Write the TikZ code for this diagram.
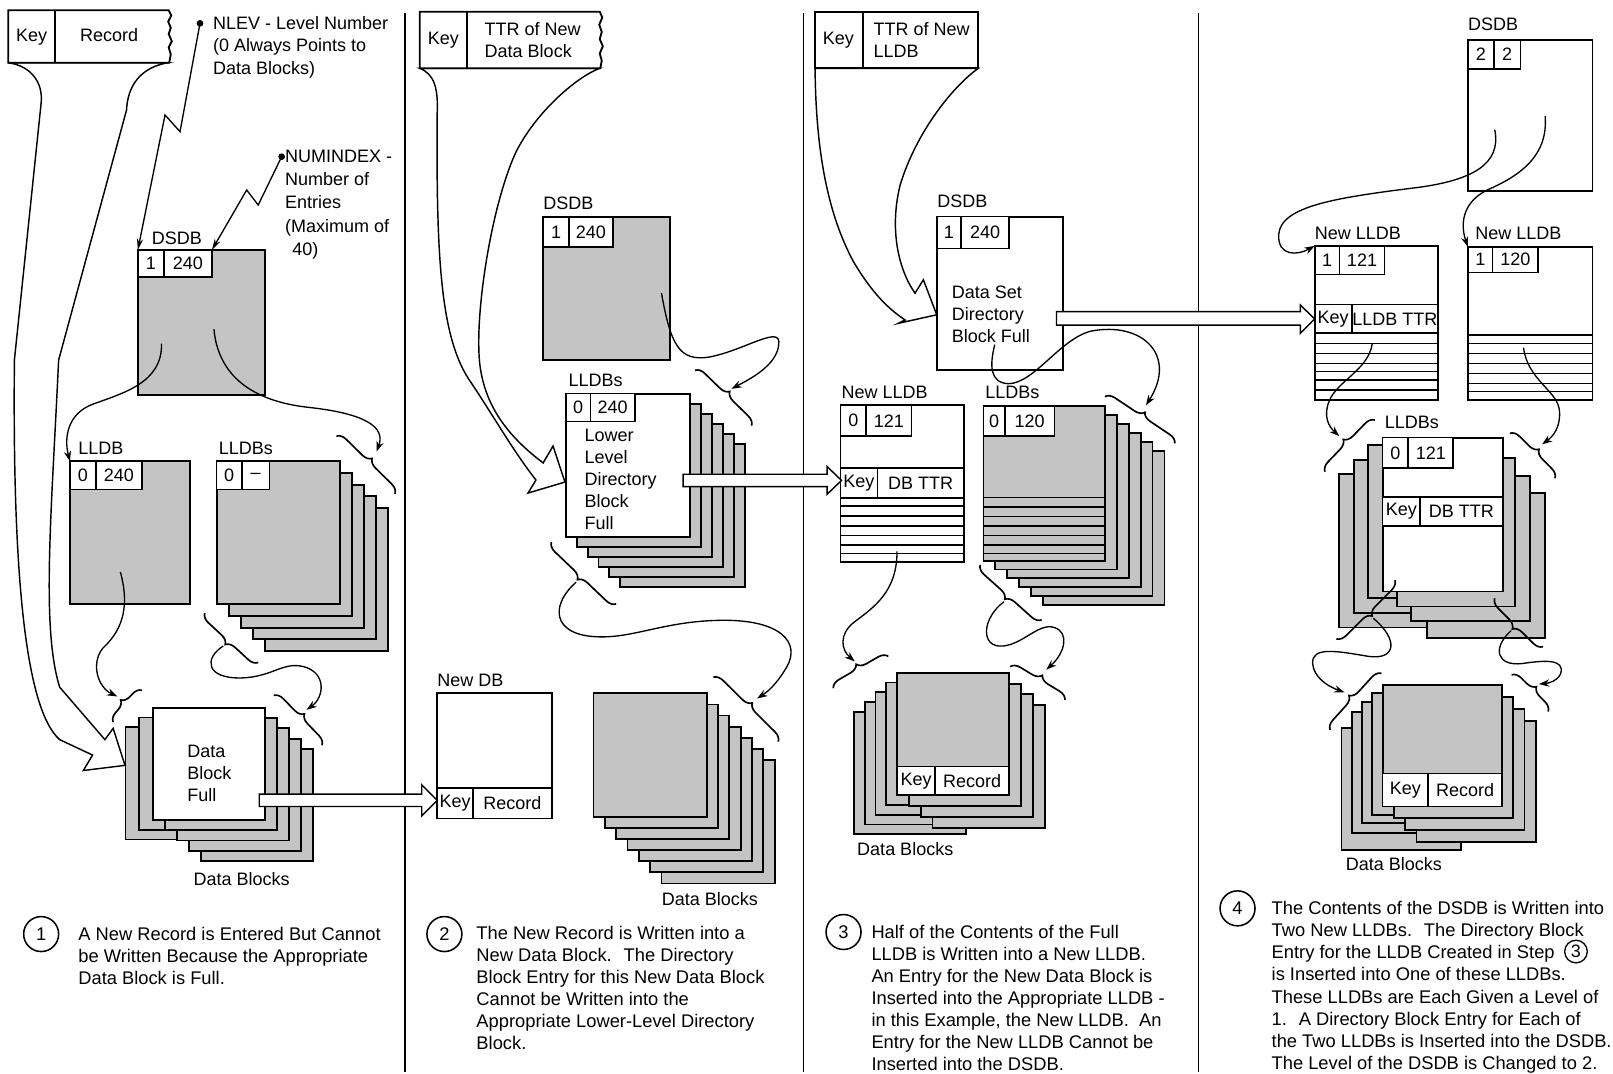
\documentclass[tikz,border=0pt]{standalone}
\usepackage{fontspec}
\setmainfont{Liberation Sans}
\usetikzlibrary{arrows.meta,decorations.pathreplacing}
\definecolor{stipple}{RGB}{196,196,196}
\newcommand\txtsize{\fontsize{17.5}{21.4}\selectfont}
\newcommand\steptxt{\fontsize{17.8}{21.5}\selectfont}

\tikzset{
  leaf/.style={draw, line width=1.8pt, fill=stipple, anchor=north west, inner sep=0pt, outer sep=0pt},
  blank/.style={leaf, fill=white},
  cell/.style={draw, line width=1.6pt, fill=white, anchor=north west, inner sep=0pt, outer sep=0pt, font=\txtsize},
  lbl/.style={anchor=west, inner sep=0pt, font=\txtsize, text height=12.5pt, text depth=3.5pt},
  ctr/.style={inner sep=0pt, font=\txtsize, text height=12.5pt, text depth=3.5pt},
  para/.style={anchor=north west, inner sep=0pt, align=left, font=\txtsize},
  steppara/.style={anchor=north west, inner sep=0pt, align=left, font=\steptxt},
  link/.style={line width=1.3pt, -{Stealth[length=10pt,width=7pt]}},
  lead/.style={line width=1.3pt, -{Stealth[length=11pt,width=6pt]}},
  curl/.style={decorate, decoration={brace, amplitude=9pt}, line width=1.6pt},
  hollow/.style={draw, line width=1.4pt, fill=white, line join=miter},
  rule/.style={line width=1.4pt},
  frame/.style={line width=1.8pt},
  stripe/.style={line width=1.3pt},
  stepmark/.style={circle, draw, line width=1.5pt, minimum size=34pt, inner sep=0pt, font=\steptxt},
  dot/.style={circle, fill, inner sep=0pt, minimum size=6.5pt},
}

% one sheet of a block: [style]{name}{x}{y}{width}{height}
\newcommand\leafbox[6][leaf]{\node[#1, minimum width=#5pt, minimum height=#6pt] (#2) at (#3,#4) {};}
% two adjoining cells: {name}{x}{y}{w1}{w2}{h}{text1}{text2}
\newcommand\hdr[8]{%
  \node[cell, minimum width=#4pt, minimum height=#6pt] (#1a) at (#2,#3) {#7};
  \node[cell, minimum width=#5pt, minimum height=#6pt] (#1b) at (#1a.north east) {#8};}

\begin{document}
\begin{tikzpicture}[x=1pt,y=-1pt]
\useasboundingbox (0,0) rectangle (1568,1044);
\fill[white] (0,0) rectangle (1568,1044);

% column separators
\draw[rule] (393.5,13) -- (393.5,1042);
\draw[rule] (781,13) -- (781,1042);
\draw[rule] (1165,13) -- (1165,1042);

% =================== STEP 1 ===================
% funnel arrow from the record into the data blocks
\path[hollow] (8,61) .. controls (30,64) and (42,80) .. (40,100) -- (14,350)
  .. controls (12,560) and (25,690) .. (58,719) -- (90,734) -- (81,749) -- (121.5,744)
  -- (110,708) -- (102,719) -- (58,668) .. controls (40,610) and (50,500) .. (57,350)
  -- (123,107) .. controls (124,85) and (135,66) .. (163,61) -- cycle;
% record with torn right edge
\draw[frame, fill=white] (8,10) -- (164,10) -- (166.5,15) -- (163.5,21) -- (166,27) -- (164,33)
  -- (167,40) -- (164,46) -- (166,53) -- (164.5,61) -- (8,61) -- cycle;
\draw[frame] (53.5,10) -- (53.5,61);
\node[ctr] (k1) at (30.7,36) {Key};
\node[ctr] (r1) at (106,36) {Record};

% DSDB
\leafbox{dsdb1}{134}{243}{123.6}{141}
\hdr{h1}{134}{243}{25.5}{46.5}{26}{1}{240}
\node[lbl] (dsdb1l) at (147.5,233) {DSDB};

% annotations
\node[dot] (nlevdot) at (194.4,22.7) {};
\node[para, font=\fontsize{17.5}{21.9}\selectfont] (nlev) at (207,15.7) {NLEV - Level Number\\(0 Always Points to\\Data Blocks)};
\draw[lead] (nlevdot.center) -- (175,128) -- (160.4,111.8) -- (dsdb1.north west);
\node[dot] (numdot) at (273.8,152.3) {};
\node[para, font=\fontsize{17.5}{22.7}\selectfont] (numidx) at (277,145.3) {NUMINDEX -\\Number of\\Entries\\(Maximum of\\\hspace{7pt}40)};
\draw[lead] (numdot.center) -- (251,199.3) -- (239.8,184.7) -- (h1b.north east);

% LLDB
\leafbox{lldb1}{68}{448.5}{117}{139}
\hdr{h2}{68}{448.5}{25.3}{44.7}{27.5}{0}{240}
\node[lbl] (lldb1l) at (76,437.5) {LLDB};

% LLDBs stack
\foreach \k in {4,...,1}{\leafbox{lldbs1s\k}{210.6+11.7*\k}{448.5+11.3*\k}{120}{139}}
\leafbox{lldbs1}{210.6}{448.5}{120}{139}
\hdr{h3}{210.6}{448.5}{24.4}{27}{27.5}{0}{--}
\node[lbl] (lldbs1l) at (212.5,437.5) {LLDBs};

% data blocks
\foreach \k in {2,1}{\leafbox{db1l\k}{149-13.5*\k}{688+9.5*\k}{109}{109}}
\foreach \k in {4,...,1}{\leafbox{db1r\k}{149+11.5*\k}{688+10*\k}{109}{109}}
\leafbox[blank]{db1}{149}{688}{109}{109}
\node[para] (db1t) at (182,724) {Data\\Block\\Full};
\node[ctr] (db1lab) at (235,856) {Data Blocks};

% pointers
\coordinate (c1a) at (157,334);
\draw[link] (c1a) .. controls (158,372) and (120,382) .. (90,393) .. controls (66,402) and (62,425) .. (lldb1.north west);
\coordinate (b1a1) at (327,424); \coordinate (b1a2) at (384,480);
\draw[curl] (b1a1) -- (b1a2);
\coordinate (c1b) at (208,320); \coordinate (c1be) at (366,439);
\draw[link] (c1b) .. controls (212,365) and (245,390) .. (300,396) .. controls (355,402) and (375,415) .. (c1be);
\coordinate (b1b1) at (251,644); \coordinate (b1b2) at (199,596);
\draw[curl] (b1b1) -- (b1b2);
\coordinate (b1c1) at (266,676); \coordinate (b1c2) at (313,724.5);
\draw[curl] (b1c1) -- (b1c2);
\coordinate (c1c) at (217,628); \coordinate (c1ce) at (298,690);
\draw[link] (c1c) .. controls (198,640) and (200,660) .. (235,659) .. controls (265,658) and (275,643) .. (295,648) .. controls (318,654) and (315,678) .. (c1ce);
\coordinate (b1d1) at (110,702); \coordinate (b1d2) at (138,671);
\draw[curl] (b1d1) -- (b1d2);
\coordinate (c1d) at (117,556); \coordinate (c1de) at (114,677);
\draw[link] (c1d) .. controls (125,585) and (122,610) .. (100,630) .. controls (88,645) and (95,668) .. (c1de);

\node[stepmark] (st1) at (40,908) {1};
\node[steppara] (tx1) at (76,901) {A New Record is Entered But Cannot\\be Written Because the Appropriate\\Data Block is Full.};

% =================== STEP 2 ===================
\path[hollow] (408,66.4) .. controls (422,72) and (426,85) .. (425,110) .. controls (424,250) and (428,330) .. (458,372)
  .. controls (480,405) and (500,440) .. (521,466.6) -- (513.3,479.3) -- (549.2,468.6) -- (537.6,433.6) -- (528,450)
  .. controls (495,425) and (470,395) .. (466,350) .. controls (462,300) and (478,200) .. (501,149)
  .. controls (520,110) and (560,75) .. (583,66.4) -- cycle;
\draw[frame, fill=white] (408,11.4) -- (583,11.4) -- (585.5,17) -- (582.5,24) -- (585,31) -- (583,38) -- (586,45)
  -- (583,52) -- (585,59) -- (583.5,66.4) -- (408,66.4) -- cycle;
\draw[frame] (454,11.4) -- (454,66.4);
\node[ctr] (k2) at (431,39) {Key};
\node[para] (r2) at (471,22) {TTR of New\\Data Block};

\leafbox{dsdb2}{528}{211}{123}{139}
\hdr{h4}{528}{211}{25}{43}{29}{1}{240}
\node[lbl] (dsdb2l) at (528,199) {DSDB};

\foreach \k in {5,...,1}{\leafbox{lldbs2s\k}{550+10.6*\k}{382.6+9.8*\k}{121}{139}}
\leafbox[blank]{lldbs2}{550}{382.6}{121}{139}
\hdr{h5}{550}{382.6}{24}{43}{27}{0}{240}
\node[lbl] (lldbs2l) at (552.5,371.5) {LLDBs};
\node[para] (lldbs2t) at (568,417) {Lower\\Level\\Directory\\Block\\Full};

\leafbox[blank]{ndb}{425}{674}{111.3}{121.5}
\hdr{h6}{425}{766}{35}{76.3}{29.5}{Key}{Record}
\node[lbl] (ndbl) at (425,663) {New DB};

\foreach \k in {6,...,1}{\leafbox{db2s\k}{577+11*\k}{674+10.8*\k}{110}{120}}
\leafbox{db2}{577}{674}{110}{120}
\node[ctr] (db2lab) at (690,876) {Data Blocks};

\coordinate (c2a) at (643,285); \coordinate (c2ae) at (711,378);
\draw[link] (c2a) .. controls (652,335) and (660,352) .. (690,347) .. controls (725,340) and (760,315) .. (757,335) .. controls (755,355) and (730,368) .. (c2ae);
\coordinate (b2a1) at (675.6,360); \coordinate (b2a2) at (730.6,413.8);
\draw[curl] (b2a1) -- (b2a2);
\coordinate (b2b1) at (599,587); \coordinate (b2b2) at (536,527);
\draw[curl] (b2b1) -- (b2b2);
\coordinate (b2c1) at (693.4,658.4); \coordinate (b2c2) at (756.6,721);
\draw[curl] (b2c1) -- (b2c2);
\coordinate (c2b) at (560,566); \coordinate (c2be) at (736,679);
\draw[link] (c2b) .. controls (538,585) and (535,612) .. (570,618) .. controls (610,624) and (640,604) .. (700,603) .. controls (760,602) and (778,625) .. (765,648) .. controls (758,660) and (750,670) .. (c2be);

\node[stepmark] (st2) at (432,908) {2};
\node[steppara] (tx2) at (463,900) {The New Record is Written into a\\New Data Block.~ The Directory\\Block Entry for this New Data Block\\Cannot be Written into the\\Appropriate Lower-Level Directory\\Block.};

% =================== STEP 3 ===================
\path[hollow] (792.3,66.4) .. controls (793,130) and (800,200) .. (830,255) .. controls (845,280) and (860,298) .. (879.8,311)
  -- (873.3,314.3) -- (910.6,306) -- (897.6,272) -- (889.5,285)
  .. controls (872,260) and (865,220) .. (875,180) .. controls (890,130) and (925,85) .. (951,66.4) -- cycle;
\draw[frame, fill=white] (792.3,11.3) rectangle (951,66.4);
\draw[frame] (839.3,11.3) -- (839.3,66.4);
\node[ctr] (k3) at (815,39) {Key};
\node[para] (r3) at (849,22) {TTR of New\\LLDB};

\leafbox[blank]{dsdb3}{910.6}{210.6}{123}{149}
\hdr{h7}{910.6}{210.6}{23.6}{46.8}{30.8}{1}{240}
\node[lbl] (dsdb3l) at (911,197) {DSDB};
\node[para] (dsdb3t) at (925,278) {Data Set\\Directory\\Block Full};

\leafbox[blank]{nl3}{817}{394}{120}{152}
\hdr{h8}{817}{394}{25}{44}{30}{0}{121}
\hdr{h9}{817}{455}{36}{84}{29}{Key}{DB TTR}
\foreach \y in {492,501.5,511.3,520.7,529.8,537.9}{\draw[stripe] (817,\y) -- (937,\y);}
\node[lbl] (nl3l) at (818,383) {New LLDB};

\foreach \k in {5,...,1}{\leafbox{lldbs3s\k}{956+11.6*\k}{395+8.6*\k}{118}{150}}
\leafbox{lldbs3}{956}{395}{118}{150}
\hdr{h10}{956}{395}{21}{48}{29}{0}{120}
\foreach \y in {483.7,493,502,511.3,520.7,529.8,537.9}{\draw[stripe] (956,\y) -- (1074,\y);}
\node[lbl] (lldbs3l) at (957.6,383) {LLDBs};

\foreach \k in {4,...,1}{\leafbox{db3l\k}{872-10.5*\k}{654+9.5*\k}{109}{119}}
\foreach \k in {3,...,1}{\leafbox{db3r\k}{872+11.5*\k}{654+10.5*\k}{109}{119}}
\leafbox{db3}{872}{654}{109}{119}
\hdr{h11}{872}{745}{37}{72}{28}{Key}{Record}
\node[ctr] (db3lab) at (880,827) {Data Blocks};

\coordinate (c3a) at (967,335); \coordinate (c3ae) at (1114,394);
\draw[link] (c3a) .. controls (962,355) and (962,372) .. (980,373) .. controls (1005,373) and (1030,330) .. (1060,322) .. controls (1110,312) and (1145,345) .. (c3ae);
\coordinate (b3a1) at (1074,385.6); \coordinate (b3a2) at (1142,431);
\draw[curl] (b3a1) -- (b3a2);
\coordinate (b3b1) at (1012.6,602.6); \coordinate (b3b2) at (952.7,549);
\draw[curl] (b3b1) -- (b3b2);
\coordinate (b3c1) at (810,669); \coordinate (b3c2) at (863.6,638);
\draw[curl] (b3c1) -- (b3c2);
\coordinate (b3d1) at (982,648); \coordinate (b3d2) at (1035.3,680.4);
\draw[curl] (b3d1) -- (b3d2);
\coordinate (c3b) at (976,585); \coordinate (c3be) at (1017,651);
\draw[link] (c3b) .. controls (955,600) and (952,630) .. (975,628) .. controls (995,626) and (1010,605) .. (1025,610) .. controls (1040,615) and (1035,635) .. (c3be);
\coordinate (c3c) at (872,536); \coordinate (c3ce) at (831,643);
\draw[link] (c3c) .. controls (872,575) and (850,590) .. (830,605) .. controls (815,617) and (818,632) .. (c3ce);

\node[stepmark] (st3) at (820,906) {3};
\node[steppara] (tx3) at (847,899) {Half of the Contents of the Full\\LLDB is Written into a New LLDB.\\An Entry for the New Data Block is\\Inserted into the Appropriate LLDB -\\in this Example, the New LLDB.~ An\\Entry for the New LLDB Cannot be\\Inserted into the DSDB.};

% =================== STEP 4 ===================
\leafbox[blank]{dsdb4}{1427}{39}{121}{147}
\hdr{h12}{1427}{39}{25}{26}{28}{2}{2}
\node[lbl] (dsdb4l) at (1427,25) {DSDB};

\leafbox[blank]{nl4a}{1278}{239}{120}{150}
\hdr{h13}{1278}{239}{24}{44}{28}{1}{121}
\hdr{h14}{1278}{296}{36}{84}{28}{Key}{LLDB TTR}
\foreach \y in {333.7,343.4,353.2,361.3,369.4,379}{\draw[stripe] (1278,\y) -- (1398,\y);}
\node[lbl] (nl4al) at (1278,228) {New LLDB};

\leafbox[blank]{nl4b}{1427}{240}{121}{149}
\hdr{h15}{1427}{240}{24}{44}{25}{1}{120}
\foreach \y in {325.6,333.7,343.4,353.2,362.9,372.6,380.7}{\draw[stripe] (1427,\y) -- (1548,\y);}
\node[lbl] (nl4bl) at (1434,228) {New LLDB};

% LLDB stack, fanned both ways
\leafbox{lldbs4l3}{1302}{461}{117}{149}
\leafbox{lldbs4l2}{1316}{447}{117}{149}
\leafbox{lldbs4l1}{1330}{432.5}{117}{149}
\leafbox{lldbs4r3}{1387}{479.5}{115}{140.5}
\leafbox{lldbs4r2}{1372}{463}{115}{141}
\leafbox{lldbs4r1}{1358}{445.5}{115}{144}
\leafbox[blank]{lldbs4}{1344}{425.4}{117}{149.6}
\hdr{h16}{1344}{425.4}{25}{43.7}{29.8}{0}{121}
\hdr{h17}{1344}{483.4}{36.3}{80.7}{27.9}{Key}{DB TTR}
\node[lbl] (lldbs4l) at (1346,412.5) {LLDBs};

% data block stack
\leafbox{db4l4}{1304}{708}{116}{118}
\leafbox{db4l3}{1314}{692}{116}{118}
\leafbox{db4l2}{1324}{682}{116}{118}
\leafbox{db4l1}{1334}{674}{116}{118}
\foreach \k in {3,...,1}{\leafbox{db4r\k}{1344+11*\k}{666+11.5*\k}{116}{118}}
\leafbox{db4}{1344}{666}{116}{118}
\hdr{h18}{1344}{752}{44.4}{71.6}{32}{Key}{Record}
\node[ctr] (db4lab) at (1355,842) {Data Blocks};

\coordinate (c4a) at (1453,126);
\draw[link] (c4a) .. controls (1460,160) and (1430,175) .. (1380,182) .. controls (1300,192) and (1245,200) .. (1243,228) .. controls (1242,250) and (1262,248) .. (nl4a.north west);
\coordinate (c4b) at (1502,113);
\draw[link] (c4b) .. controls (1505,150) and (1480,170) .. (1445,185) .. controls (1420,198) and (1420,220) .. (nl4b.north west);
\coordinate (b4a1) at (1288,458.5); \coordinate (b4a2) at (1336.6,408.2);
\draw[curl] (b4a1) -- (b4a2);
\coordinate (b4b1) at (1467.8,421.2); \coordinate (b4b2) at (1511.6,465);
\draw[curl] (b4b1) -- (b4b2);
\coordinate (c4c) at (1334,334); \coordinate (c4ce) at (1302,424);
\draw[link] (c4c) .. controls (1330,360) and (1300,370) .. (1292,390) .. controls (1286,405) and (1292,415) .. (c4ce);
\coordinate (c4d) at (1481,338); \coordinate (c4de) at (1499,432);
\draw[link] (c4d) .. controls (1485,370) and (1515,380) .. (1516,400) .. controls (1517,415) and (1510,424) .. (c4de);
\coordinate (b4c1) at (1356,564); \coordinate (b4c2) at (1299,621);
\draw[curl] (b4c1) -- (b4c2);
\coordinate (b4d1) at (1500,628.6); \coordinate (b4d2) at (1453,581.6);
\draw[curl] (b4d1) -- (b4d2);
\coordinate (b4e1) at (1293,709.6); \coordinate (b4e2) at (1343,654.5);
\draw[curl] (b4e1) -- (b4e2);
\coordinate (b4f1) at (1469.4,656); \coordinate (b4f2) at (1505,691.7);
\draw[curl] (b4f1) -- (b4f2);
\coordinate (c4e) at (1335,601); \coordinate (c4ee) at (1307,673);
\draw[link] (c4e) .. controls (1360,622) and (1357,642) .. (1330,638) .. controls (1300,633) and (1275,628) .. (1276,645) .. controls (1277,658) and (1290,667) .. (c4ee);
\coordinate (c4f) at (1469,613); \coordinate (c4fe) at (1496,665);
\draw[link] (c4f) .. controls (1450,630) and (1455,648) .. (1480,645) .. controls (1500,642) and (1522,640) .. (1517,655) .. controls (1514,662) and (1506,664) .. (c4fe);

\node[stepmark] (st4) at (1203,883) {4};
\node[steppara] (tx4) at (1236,876) {The Contents of the DSDB is Written into\\Two New LLDBs.~ The Directory Block\\Entry for the LLDB Created in Step\\is Inserted into One of these LLDBs.\\These LLDBs are Each Given a Level of\\1.~ A Directory Block Entry for Each of\\the Two LLDBs is Inserted into the DSDB.\\The Level of the DSDB is Changed to 2.};
\node[circle, draw, line width=1.3pt, minimum size=22pt, inner sep=0pt, font=\txtsize] (inl3) at (1532,925) {3};

% =================== broad transfer arrows ===================
\path[hollow] (252,772) -- (410,772) -- (410,763) -- (425,778) -- (410,793) -- (410,784) -- (252,784) -- cycle;
\path[hollow] (664,461) -- (804,461) -- (804,453.5) -- (818,467) -- (804,480.5) -- (804,473) -- (664,473) -- cycle;
\path[hollow] (1027,303) -- (1264,303) -- (1264,296.5) -- (1278,310) -- (1264,324) -- (1264,316) -- (1027,316) -- cycle;
\end{tikzpicture}
\end{document}
